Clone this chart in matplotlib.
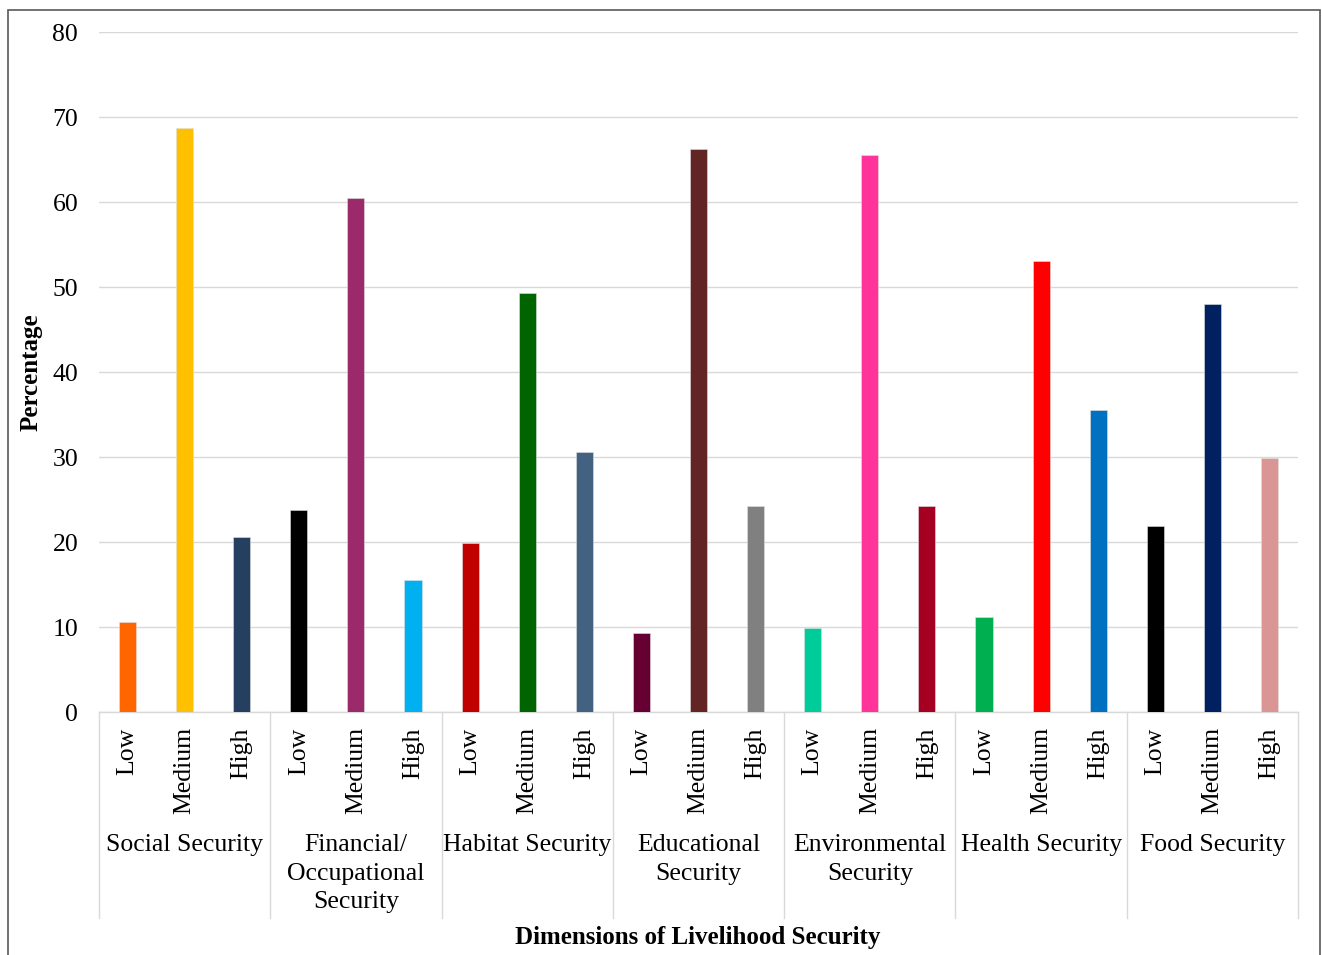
import numpy as np
import matplotlib
matplotlib.use("Agg")
from matplotlib import pyplot as plt
from matplotlib.patches import Rectangle
import matplotlib.transforms as mtransforms

plt.rcParams['font.family'] = ['Liberation Serif', 'DejaVu Serif']

groups = ['Social Security', 'Financial/\nOccupational\nSecurity', 'Habitat Security',
          'Educational\nSecurity', 'Environmental\nSecurity', 'Health Security', 'Food Security']
levels = ['Low', 'Medium', 'High']

low = [10.6, 23.8, 19.9, 9.3, 9.9, 11.2, 21.9]
medium = [68.7, 60.5, 49.3, 66.2, 65.5, 53.1, 48.0]
high = [20.6, 15.5, 30.6, 24.2, 24.2, 35.5, 29.9]

colors = ['#FF6600', '#FFC000', '#243F60',
          '#000000', '#9A2A6A', '#00B0F0',
          '#C00000', '#006400', '#436180',
          '#660033', '#632523', '#808080',
          '#00CC99', '#FF3399', '#A50021',
          '#00B050', '#FF0000', '#0070C0',
          '#000000', '#002060', '#DA9694']

yticks = [0, 10, 20, 30, 40, 50, 60, 70, 80]

# flatten into one bar per group/level
values = []
for i in range(len(groups)):
    values += [low[i], medium[i], high[i]]
x = np.arange(len(values))

fig = plt.figure(figsize=(13.22, 9.55), dpi=100)
ax = fig.add_axes([99 / 1322, 1 - 712 / 955, (1298 - 99) / 1322, (712 - 32) / 955])

ax.bar(x, values, width=0.3, color=colors, edgecolor='#e0e0e0', linewidth=0.4, zorder=3)

ax.set_xlim(-0.5, len(values) - 0.5)
ax.set_ylim(0, 80)
ax.set_yticks(yticks)
ax.set_yticklabels([str(t) for t in yticks], fontsize=18.5)
ax.tick_params(axis='y', length=0, pad=15)
ax.set_xticks(x)
ax.set_xticklabels(levels * len(groups), rotation=90, fontsize=18.5)
ax.tick_params(axis='x', length=0, pad=11)
ax.grid(axis='y', color='#d9d9d9', linewidth=1, zorder=0)

for s in ['top', 'right', 'left']:
    ax.spines[s].set_visible(False)
ax.spines['bottom'].set_color('#d9d9d9')
ax.spines['bottom'].set_linewidth(1)

# group labels and separators under the axis
trans = mtransforms.blended_transform_factory(ax.transData, ax.transAxes)
for i, g in enumerate(groups):
    ax.text(3 * i + 1, -0.18, g, transform=trans, ha='center', va='top',
            fontsize=18.5, linespacing=1.38)
for k in range(len(groups) + 1):
    ax.plot([3 * k - 0.5, 3 * k - 0.5], [0, -0.303], transform=trans,
            color='#d9d9d9', linewidth=1, clip_on=False)

ax.set_ylabel('Percentage', fontsize=18, fontweight='bold')
ax.yaxis.set_label_coords(-0.047, 0.5)
fig.text(698 / 1322, 1 - 937 / 955, 'Dimensions of Livelihood Security',
         ha='center', va='center', fontsize=18, fontweight='bold')

# outer frame
fig.patches.append(Rectangle((7.5 / 1322, -0.05), (1320 - 7.5) / 1322, 1.05 - 10 / 955,
                             transform=fig.transFigure, fill=False,
                             edgecolor='#595959', linewidth=1.2))

plt.savefig('out.png', dpi=100)
